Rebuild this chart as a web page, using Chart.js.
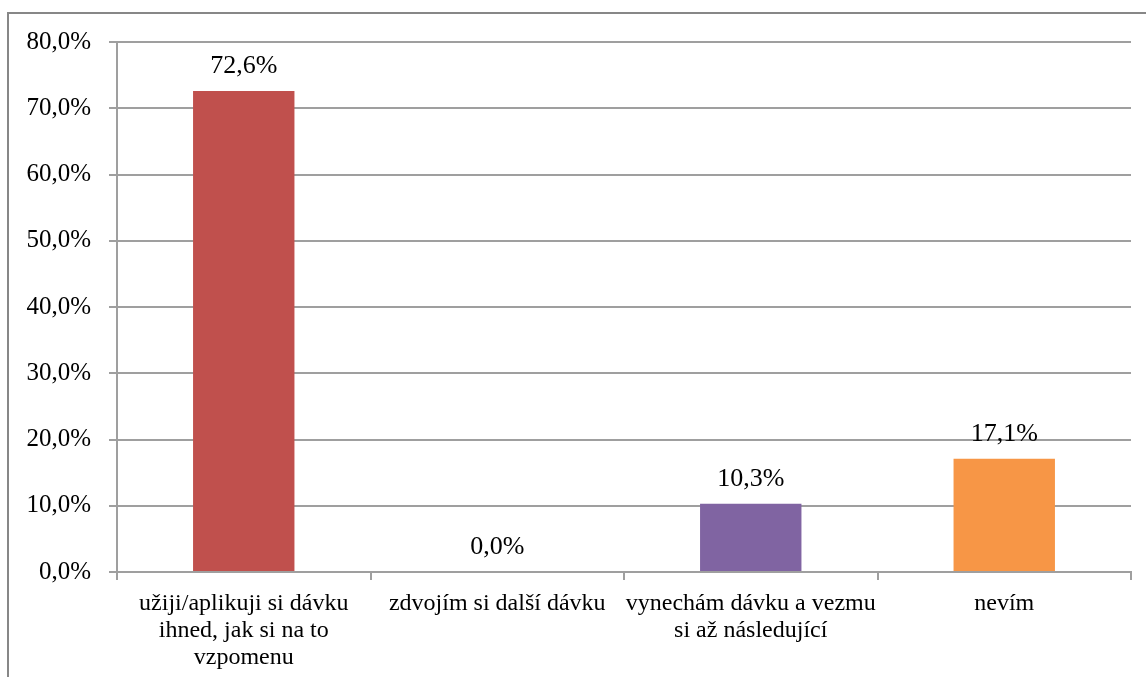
<!DOCTYPE html>
<html>
<head>
<meta charset="utf-8">
<script src="https://cdn.jsdelivr.net/npm/chart.js@4.4.1/dist/chart.umd.min.js"></script>
<style>
  html, body { margin: 0; padding: 0; background: #fff; }
  #frame {
    position: absolute; left: 7px; top: 12px; width: 1200px; height: 800px;
    border-left: 2px solid #878787; border-top: 2px solid #878787;
  }
  #chart { position: absolute; left: 0; top: 0; }
</style>
</head>
<body>
<div id="frame"></div>
<canvas id="chart" width="1146" height="677"></canvas>
<script>
const categories = [
  ["užiji/aplikuji si dávku", "ihned, jak si na to", "vzpomenu"],
  "zdvojím si další dávku",
  ["vynechám dávku a vezmu", "si až následující"],
  "nevím"
];
const shares = [72.6, 0.0, 10.3, 17.1];
const barColors = ["#C0504D", "#9BBB59", "#8064A2", "#F79646"];
const yTicks = [0, 10, 20, 30, 40, 50, 60, 70, 80];

const fmt = v => v.toFixed(1).replace(".", ",") + "%";
const serif = "'Liberation Serif', 'Times New Roman', serif";

// value labels above each bar
const valueLabels = {
  id: "valueLabels",
  afterDatasetsDraw(chart) {
    const ctx = chart.ctx;
    const meta = chart.getDatasetMeta(0);
    ctx.save();
    ctx.font = "26px " + serif;
    ctx.fillStyle = "#000";
    ctx.textAlign = "center";
    ctx.textBaseline = "middle";
    meta.data.forEach((bar, i) => {
      ctx.fillText(fmt(shares[i]), bar.x, bar.y - 25);
    });
    ctx.restore();
  }
};

new Chart(document.getElementById("chart"), {
  type: "bar",
  data: {
    labels: categories,
    datasets: [{
      data: shares,
      backgroundColor: barColors,
      barPercentage: 0.8,
      categoryPercentage: 0.5
    }]
  },
  options: {
    responsive: false,
    animation: false,
    layout: { padding: { top: 42, right: 15, left: 0, bottom: 0 } },
    plugins: { legend: { display: false }, tooltip: { enabled: false } },
    scales: {
      x: {
        offset: true,
        grid: {
          offset: true,
          drawOnChartArea: false,
          drawTicks: true,
          tickLength: 8,
          color: "#9f9f9f",
          lineWidth: 2
        },
        border: { display: true, color: "#9f9f9f", width: 2 },
        ticks: {
          maxRotation: 0,
          autoSkip: false,
          padding: 10,
          color: "#000",
          font: { family: serif, size: 24, lineHeight: 1.125 }
        },
        afterFit(scale) { scale.height = 105; }
      },
      y: {
        min: 0,
        max: 80,
        afterBuildTicks(scale) { scale.ticks = yTicks.map(v => ({ value: v })); },
        grid: { color: "#9f9f9f", lineWidth: 2, tickLength: 8 },
        border: { display: true, color: "#9f9f9f", width: 2 },
        ticks: {
          padding: 18,
          color: "#000",
          font: { family: serif, size: 25 },
          callback: v => fmt(v)
        },
        afterFit(scale) { scale.width = 117; }
      }
    }
  },
  plugins: [valueLabels]
});
</script>
</body>
</html>
